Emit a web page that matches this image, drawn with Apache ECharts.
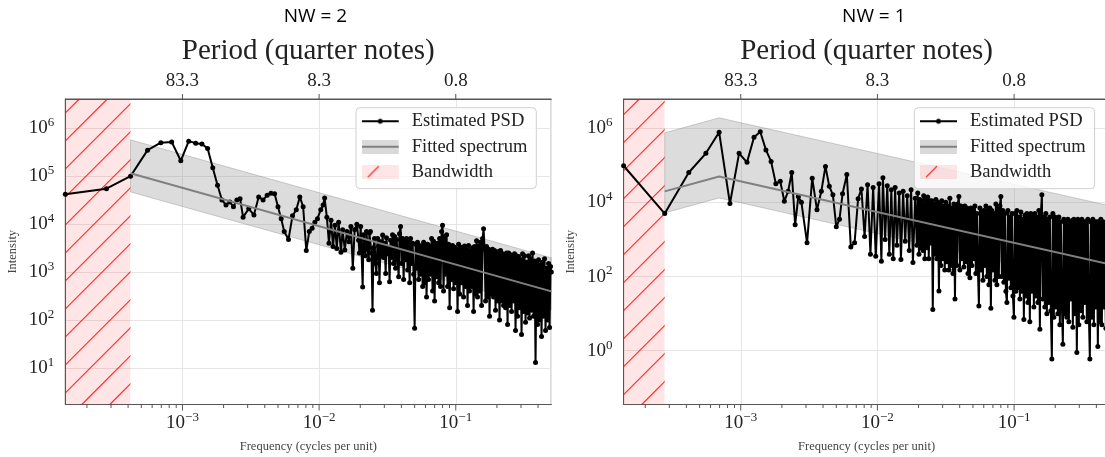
<!DOCTYPE html>
<html>
<head>
<meta charset="utf-8">
<script src="https://cdn.jsdelivr.net/npm/echarts@6/dist/echarts.min.js"></script>
<style>
    html, body { margin: 0; padding: 0; background: #fff; }
    #chart { width: 1105px; height: 457px; }
</style>
</head>
<body>
<div id="chart"></div>
<script>
    // frequency bins k, frequency = k / sampleCount
    var sampleCount = 7200;
    var bins = [1, 2, 3, 4, 5, 6, 7, 8, 9, 10, 11, 12, 13, 14, 15, 16, 17, 18, 19, 20,
        22, 24, 26, 28, 30, 32, 34, 36, 38, 40,
        43, 46, 49, 52, 55, 58, 61, 64, 67, 70,
        74, 77, 79, 82, 85, 88, 91, 94, 97, 100,
        104, 107, 111, 115, 119, 123, 127, 131, 136,
        140, 142, 145, 147, 150, 152, 155, 157, 160, 163,
        166, 168, 171, 174, 177, 180, 183, 186, 189, 193,
        196, 199, 203, 206, 210, 213, 217, 221, 224, 228,
        232, 236, 240, 244, 248, 252, 257, 261, 266, 270,
        275, 279, 284, 289, 294, 299, 304, 309, 314, 320,
        325, 331, 336, 342, 348, 354, 360, 366, 372, 378,
        385, 391, 398, 405, 412, 419, 426, 433, 440, 448,
        455, 463, 471, 479, 487, 495, 504, 512, 521, 530,
        539, 548, 557, 567, 576, 586, 596, 606, 617, 627,
        638, 649, 660, 671, 682, 694, 706, 718, 730, 742,
        755, 768, 781, 794, 807, 821, 835, 849, 864, 878,
        893, 908, 924, 939, 955, 972, 988, 1005, 1022, 1039,
        1057, 1075, 1093, 1112, 1131, 1150, 1169, 1189, 1209, 1230,
        1251, 1272, 1294, 1316, 1338, 1361, 1384, 1407, 1431, 1456,
        1480, 1505, 1531, 1557, 1584, 1610, 1638, 1666, 1694, 1723,
        1752, 1782, 1812, 1843, 1874, 1906, 1938, 1971, 2005, 2039,
        2073, 2108, 2144, 2181, 2218, 2255, 2294, 2333, 2372, 2413,
        2454, 2495, 2538, 2581, 2625, 2669, 2715, 2761, 2808, 2855,
        2904, 2953, 3003, 3054, 3106, 3159, 3213, 3267, 3323, 3379,
        3437, 3495, 3554, 3600];

    // estimated PSD, NW = 2 (left)
    var psdNW2 = [4.2e4, 5.5e4, 1.0e5, 3.5e5, 5.0e5, 5.2e5, 2.1e5, 5.4e5, 4.9e5, 4.7e5, 3.8e5, 1.5e5, 6.5e4, 3.2e4, 2.5e4, 2.9e4, 2.3e4, 3.2e4, 3.4e4, 1.4e4,
        2.1e4, 1.55e4, 3.7e4, 3.2e4, 4.0e4, 4.4e4, 4.3e4, 2.3e4, 1.3e4, 7e3,
        4.8e3, 1.5e4, 2e4, 3.7e4, 2.3e4, 2.8e3, 7e3, 8.2e3, 1.1e4, 1.3e4,
        2e4, 2.5e4, 3.5e4, 1.4e4, 4e3, 1.2e4, 3.4e3, 9.5e3, 3.1e3, 1.1e4,
        2.6e3, 7.6e3, 2.9e3, 7e3, 4.3e3, 8.9e3, 1.2e3, 7.6e3, 1.0e4,
        4.6e3, 2.5e3, 8.9e3, 3e3, 490, 6e3, 4.6e3, 2.2e3, 7e3, 3e3,
        1.8e3, 6.5e3, 7e3, 2.5e3, 160, 3.2e3, 5e3, 1.5e3, 930, 5e3,
        3.5e3, 600, 4.3e3, 2.2e3, 5.9e3, 2e3, 4e3, 930, 5.2e3, 2.4e3,
        3.2e3, 630, 4.6e3, 2e3, 6e3, 1.5e3, 5.5e3, 1.2e3, 4.8e3, 2e3,
        800, 6.3e3, 8.9e3, 1.5e3, 5e3, 700, 4.5e3, 1.8e3, 5e3, 1.1e3,
        4.6e3, 600, 5e3, 1.5e3, 4e3, 900, 67, 3.8e3, 1.2e3, 4.2e3,
        700, 3.6e3, 900, 3.5e3, 500, 4.2e3, 600, 3.4e3, 300, 3.8e3,
        700, 3.5e3, 900, 5e3, 400, 4.4e3, 250, 3.6e3, 800, 4e3,
        600, 5e3, 500, 7e3, 9.5e3, 400, 5.5e3, 900, 6e3, 500,
        3.8e3, 180, 3.2e3, 700, 3.6e3, 450, 3.3e3, 600, 3e3, 150,
        3.8e3, 350, 3.2e3, 600, 3.3e3, 300, 3.5e3, 500, 3e3, 200,
        3.6e3, 400, 2.8e3, 500, 3.2e3, 150, 3.4e3, 350, 4.5e3, 300,
        3.5e3, 400, 4.2e3, 200, 5e3, 8e3, 3e3, 250, 3.4e3, 300,
        3e3, 120, 2.6e3, 350, 3e3, 300, 2.8e3, 160, 2.4e3, 250,
        2.7e3, 100, 2.8e3, 250, 2.4e3, 200, 2.2e3, 180, 2.5e3, 80,
        2.5e3, 200, 2.3e3, 150, 2e3, 250, 2.4e3, 60, 2.2e3, 120,
        2.1e3, 180, 1.8e3, 50, 2.4e3, 150, 2.2e3, 90, 1.6e3, 140,
        2.2e3, 110, 1.9e3, 160, 2.5e3, 120, 1.7e3, 13, 1.5e3, 80,
        1.8e3, 100, 1.4e3, 45, 1.6e3, 120, 1.9e3, 60, 1.2e3, 100,
        1.5e3, 70, 1.3e3, 1.0e3];

    // estimated PSD, NW = 1 (right)
    var psdNW1 = [9.7e4, 5e3, 6.4e4, 2.1e5, 7.8e5, 9.3e3, 2.1e5, 1.2e5, 5.7e5, 8e5, 2.6e5, 1.27e5, 3.2e4, 3.7e4, 1.07e4, 2e4, 6.4e4, 2.5e3, 1.45e4, 1e4,
        810, 4.5e4, 6.3e3, 2e4, 9.3e4, 2.7e4, 1.6e4, 2.2e3, 3.5e3, 1.7e4,
        5.6e4, 630, 810, 1.26e4, 2.3e4, 1.2e3, 3e4, 400, 2.5e4, 350,
        3.2e4, 260, 4.6e4, 1e3, 2.8e4, 400, 2.2e4, 300, 2.5e4, 700,
        1.8e4, 290, 2e4, 900, 1.5e4, 500, 2.2e4, 240, 1.3e4,
        700, 1.8e4, 400, 1.2e4, 600, 1.1e4, 500, 1.5e4, 300, 1.2e4,
        600, 1.4e4, 300, 1.1e4, 800, 1.1e4, 13, 9e3, 400, 1.2e4,
        300, 1e4, 41, 9e3, 200, 1.1e4, 300, 8e3, 150, 1e4,
        250, 8e3, 150, 1.3e4, 200, 7e3, 120, 9e3, 25, 8e3,
        200, 9e3, 1.45e4, 150, 8e3, 300, 7e3, 180, 8e3, 250,
        7e3, 120, 6e3, 93, 7e3, 200, 6e3, 300, 8e3, 120,
        5e3, 200, 16, 7e3, 150, 5.5e3, 80, 6e3, 200, 8e3,
        100, 6e3, 60, 7e3, 14, 6e3, 150, 5e3, 80, 9e3,
        60, 7e3, 100, 8e3, 1.45e4, 100, 6e3, 70, 5e3, 40,
        20, 6e3, 90, 4e3, 50, 5e3, 30, 8, 5e3, 40,
        6e3, 50, 4e3, 25, 5.5e3, 40, 3.5e3, 7, 4.5e3, 30,
        5e3, 20, 4e3, 6, 5e3, 40, 4e3, 15, 5e3, 30,
        4e3, 20, 6e3, 3.8, 5e3, 1.6e4, 25, 4e3, 15, 5e3,
        10, 3.5e3, 20, 4e3, 12, 0.6, 5e3, 8, 4e3, 15,
        3.5e3, 10, 4e3, 5, 3e3, 20, 1.5, 3.5e3, 10, 3e3,
        8, 3.5e3, 6, 3e3, 25, 3.2e3, 4.3, 3.5e3, 10, 3e3,
        0.9, 3.5e3, 5, 3e3, 12, 3.5e3, 8, 3e3, 20, 3e3,
        6, 3.5e3, 10, 0.6, 3e3, 8, 3.5e3, 5, 3e3, 15,
        3e3, 1.3, 3e3, 6, 3.5e3, 5, 3e3, 15, 2.8e3, 4,
        3e3, 8, 0.26, 2e3];

    // fitted spectrum and its band
    var fitBinsNW2 = [3, 3600];
    var fitNW2 = [1.15e5, 395];
    var fitHiNW2 = [5.75e5, 1.98e3];
    var fitLoNW2 = [4.7e4, 163];
    var fitBinsNW1 = [2, 5, 3600];
    var fitNW1 = [1.98e4, 5.0e4, 214];
    var fitHiNW1 = [7.5e5, 1.9e6, 8.1e3];
    var fitLoNW1 = [5.2e3, 1.32e4, 56];

    // bandwidth edge (bins)
    var bandEdgeNW2 = 3;
    var bandEdgeNW1 = 2;

    var majorTicks = [1e-3, 1e-2, 1e-1];
    var minorTicks = [2e-4, 3e-4, 4e-4, 5e-4, 6e-4, 7e-4, 8e-4, 9e-4,
        2e-3, 3e-3, 4e-3, 5e-3, 6e-3, 7e-3, 8e-3, 9e-3,
        2e-2, 3e-2, 4e-2, 5e-2, 6e-2, 7e-2, 8e-2, 9e-2,
        2e-1, 3e-1, 4e-1];

    var df = 1 / sampleCount;
    var fMin = bins[0] * df;
    var fMax = bins[bins.length - 1] * df;
    var serif = 'Liberation Serif';
    var txt = '#222';
    var hatchRed = 'rgba(255,0,0,0.85)';

    function iconURL (kind) {
        var c = document.createElement('canvas');
        c.width = 45; c.height = 14;
        var g = c.getContext('2d');
        if (kind === 'psd') {
            g.strokeStyle = '#000'; g.lineWidth = 2;
            g.beginPath(); g.moveTo(0, 7); g.lineTo(37, 7); g.stroke();
            g.fillStyle = '#000';
            g.beginPath(); g.arc(18.5, 7, 2.5, 0, Math.PI * 2); g.fill();
        } else if (kind === 'fit') {
            g.fillStyle = 'rgba(128,128,128,0.3)'; g.fillRect(0, 0, 37, 14);
            g.strokeStyle = '#808080'; g.lineWidth = 2;
            g.beginPath(); g.moveTo(0, 7); g.lineTo(37, 7); g.stroke();
        } else {
            g.fillStyle = 'rgba(255,0,0,0.1)'; g.fillRect(0, 0, 37, 14);
            g.strokeStyle = hatchRed; g.lineWidth = 1.1;
            g.beginPath(); g.moveTo(6, 12); g.lineTo(17, 1); g.stroke();
        }
        return 'image://' + c.toDataURL();
    }

    function powLabel (v) {
        var e = Math.log10(v);
        var r = Math.round(e);
        if (Math.abs(e - r) > 1e-6) return '';
        return '10{sup|' + (r < 0 ? '\u2212' + (-r) : r) + '}';
    }
    function periodLabel (v) {
        var e = Math.log10(v);
        if (Math.abs(e - Math.round(e)) > 1e-6) return '';
        return (1 / (12 * v)).toFixed(1);
    }
    var supRich = {
        sup: { fontSize: 13, fontFamily: serif, color: txt, verticalAlign: 'top', lineHeight: 13 }
    };

    // pink span with red '/' hatching, clipped to the span
    function hatchItem (params, api) {
        var p0 = api.coord([api.value(0), api.value(1)]);
        var p1 = api.coord([api.value(2), api.value(3)]);
        var x0 = p0[0], y0 = p0[1], x1 = p1[0], y1 = p1[1];
        var box = { x: x0, y: y0, width: x1 - x0, height: y1 - y0 };
        var children = [{ type: 'rect', shape: box, style: { fill: 'rgba(255,0,0,0.1)' } }];
        var step = 28, phase = 10.3;
        var c = Math.floor((x0 + y0 - phase) / step) * step + phase;
        for (; c <= x1 + y1 + step; c += step) {
            children.push({
                type: 'line',
                shape: { x1: c - y1, y1: y1, x2: c - y0, y2: y0 },
                style: { stroke: hatchRed, lineWidth: 1.1 }
            });
        }
        return { type: 'group', children: children, clipPath: { type: 'rect', shape: box } };
    }
    function bandItem (params, api) {
        if (params.dataIndexInside !== 0) return null;
        var n = params.dataInsideLength;
        var top = [], bot = [];
        for (var i = 0; i < n; i++) {
            top.push(api.coord([api.value(0, i), api.value(2, i)]));
            bot.unshift(api.coord([api.value(0, i), api.value(1, i)]));
        }
        return {
            type: 'polygon',
            shape: { points: top.concat(bot) },
            style: { fill: 'rgba(128,128,128,0.28)', stroke: 'rgba(128,128,128,0.35)', lineWidth: 1 }
        };
    }
    function tickItem (params, api) {
        var p = api.coord([api.value(0), api.value(1)]);
        var len = api.value(2);
        return {
            type: 'line',
            shape: { x1: p[0], y1: p[1], x2: p[0], y2: p[1] + len },
            style: { stroke: '#555', lineWidth: 1 }
        };
    }

    var panels = [
        { left: 65.3, yMin: 1.72, yMax: 4.09e6, logBase: 10, psd: psdNW2, edge: bandEdgeNW2,
          fb: fitBinsNW2, fit: fitNW2, hi: fitHiNW2, lo: fitLoNW2, title: 'NW = 2' },
        { left: 623.6, yMin: 0.0355, yMax: 6.12e6, logBase: 100, psd: psdNW1, edge: bandEdgeNW1,
          fb: fitBinsNW1, fit: fitNW1, hi: fitHiNW1, lo: fitLoNW1, title: 'NW = 1' }
    ];
    var plotW = 486, plotTop = 99, plotH = 305.5;

    var grids = [], xAxes = [], yAxes = [], series = [], legends = [], graphics = [];
    var legendData = [
        { name: 'Estimated PSD', icon: iconURL('psd') },
        { name: 'Fitted spectrum', icon: iconURL('fit') },
        { name: 'Bandwidth', icon: iconURL('bw') }
    ];

    panels.forEach(function (p, i) {
        grids.push({
            left: p.left, top: plotTop, width: plotW, height: plotH,
            show: true, borderColor: '#555', borderWidth: 1, backgroundColor: 'transparent',
            containLabel: false, outerBoundsMode: 'none'
        });
        xAxes.push({
            type: 'log', gridIndex: i, position: 'bottom', min: fMin, max: fMax,
            axisLine: { show: true, lineStyle: { color: '#555', width: 1 } },
            axisTick: { show: false },
            splitLine: { show: true, lineStyle: { color: '#e6e6e6', width: 1 } },
            axisLabel: { formatter: powLabel, fontFamily: serif, fontSize: 19, color: txt,
                lineHeight: 24, margin: 7, rich: supRich },
            name: 'Frequency (cycles per unit)', nameLocation: 'middle', nameGap: 36,
            nameMoveOverlap: false,
            nameTextStyle: { fontFamily: serif, fontSize: 12.5, color: '#444' }
        });
        xAxes.push({
            type: 'log', gridIndex: i, position: 'top', min: fMin, max: fMax,
            axisLine: { show: true, lineStyle: { color: '#555', width: 1 } },
            axisTick: { show: false },
            splitLine: { show: false },
            axisLabel: { formatter: periodLabel, fontFamily: serif, fontSize: 19, color: txt, margin: 8 },
            name: 'Period (quarter notes)', nameLocation: 'middle', nameGap: 33,
            nameMoveOverlap: false,
            nameTextStyle: { fontFamily: serif, fontSize: 29, color: txt }
        });
        yAxes.push({
            type: 'log', gridIndex: i, logBase: p.logBase, min: p.yMin, max: p.yMax,
            axisLine: { show: true, lineStyle: { color: '#555', width: 1 } },
            axisTick: { show: false },
            splitLine: { show: true, lineStyle: { color: '#e6e6e6', width: 1 } },
            axisLabel: { formatter: powLabel, fontFamily: serif, fontSize: 19, color: txt,
                lineHeight: 24, margin: 11, rich: supRich },
            name: 'Intensity', nameLocation: 'middle', nameGap: 46, nameRotate: 90,
            nameMoveOverlap: false,
            nameTextStyle: { fontFamily: serif, fontSize: 12.5, color: '#444' }
        });

        var xb = 2 * i;
        series.push({
            type: 'custom', name: 'Bandwidth', xAxisIndex: xb, yAxisIndex: i, z: 1,
            silent: true, clip: false,
            dimensions: ['x0', 'y0', 'x1', 'y1'],
            encode: { x: ['x0', 'x1'], y: ['y0', 'y1'] },
            data: [[fMin, p.yMax, p.edge * df, p.yMin]],
            renderItem: hatchItem
        });
        series.push({
            type: 'custom', name: 'Fitted spectrum', xAxisIndex: xb, yAxisIndex: i, z: 2,
            silent: true, clip: true,
            dimensions: ['x', 'lo', 'hi'],
            encode: { x: 'x', y: ['lo', 'hi'] },
            data: p.fb.map(function (k, j) { return [k * df, p.lo[j], p.hi[j]]; }),
            renderItem: bandItem
        });
        series.push({
            type: 'line', name: 'Estimated PSD', xAxisIndex: xb, yAxisIndex: i, z: 3,
            data: bins.map(function (k, j) { return [k * df, p.psd[j]]; }),
            symbol: 'circle', symbolSize: 5, showSymbol: true, showAllSymbol: true,
            lineStyle: { color: '#000', width: 2 },
            itemStyle: { color: '#000' },
            silent: true, clip: true
        });
        series.push({
            type: 'line', name: 'Fitted spectrum', xAxisIndex: xb, yAxisIndex: i, z: 4,
            data: p.fb.map(function (k, j) { return [k * df, p.fit[j]]; }),
            symbol: 'none',
            lineStyle: { color: '#808080', width: 2 },
            itemStyle: { color: '#808080' },
            silent: true, clip: true
        });
        var tickData = [];
        majorTicks.forEach(function (t) { tickData.push([t, p.yMin, 6]); });
        minorTicks.forEach(function (t) { tickData.push([t, p.yMin, 3.5]); });
        majorTicks.forEach(function (t) { tickData.push([t, p.yMax, -5]); });
        series.push({
            type: 'custom', name: 'ticks', xAxisIndex: xb, yAxisIndex: i, z: 5,
            silent: true, clip: false,
            dimensions: ['x', 'y', 'len'],
            encode: { x: 'x', y: 'y' },
            data: tickData,
            renderItem: tickItem
        });

        legends.push({
            orient: 'vertical', left: p.left + 290.7, top: 107.7,
            data: legendData, selectedMode: false,
            itemWidth: 45, itemHeight: 14, itemGap: 6.5,
            padding: [4, 9, 7, 5.7],
            backgroundColor: 'rgba(255,255,255,0.8)',
            borderColor: '#d0d0d0', borderWidth: 1, borderRadius: 4,
            textStyle: { fontFamily: serif, fontSize: 18.5, color: txt }
        });

        graphics.push({
            type: 'text', x: p.left + 250.2, y: 17,
            style: { text: p.title, fontFamily: 'Open Sans', fontSize: 19, fill: '#000',
                textAlign: 'center', textVerticalAlign: 'middle' }
        });
    });

    var chart = echarts.init(document.getElementById('chart'), null, { renderer: 'canvas' });
    chart.setOption({
        animation: false,
        backgroundColor: '#fff',
        grid: grids,
        xAxis: xAxes,
        yAxis: yAxes,
        legend: legends,
        graphic: graphics,
        series: series
    });
</script>
</body>
</html>
